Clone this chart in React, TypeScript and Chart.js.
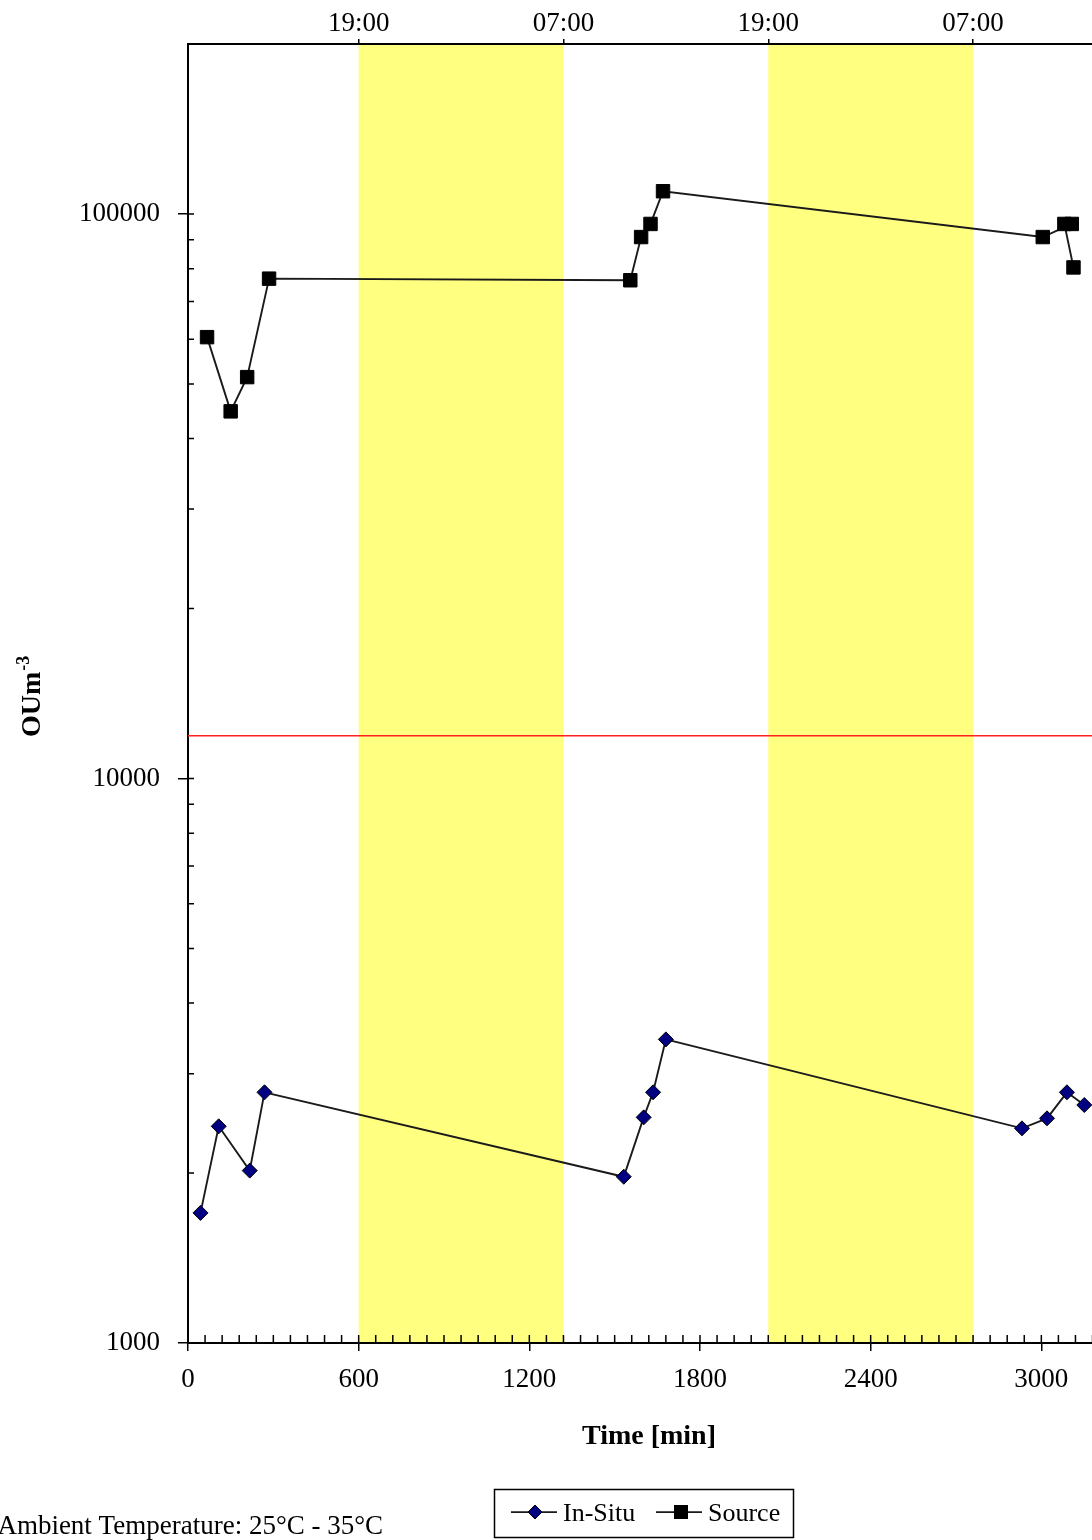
import React, { useEffect, useRef } from 'react';
import { Chart, registerables } from 'chart.js';

Chart.register(...registerables);

// Axis ticks and annotations
const timeTicks = [0, 600, 1200, 1800, 2400, 3000, 3600];
const clockTickMinutes = [600, 1320, 2040, 2760];
const clockTickLabels = ['19:00', '07:00', '19:00', '07:00'];
const nightStart = [600, 2040];
const nightEnd = [1320, 2760];
const decadeTicks = [1000, 10000, 100000];
const thresholdOU = 11900;

// Odour concentration samples (time in minutes, OU/m3)
const inSituTime = [44, 108, 217, 269, 1532, 1602, 1635, 1680, 2932, 3020, 3090, 3151];
const inSituOU = [1700, 2420, 2020, 2780, 1970, 2510, 2780, 3450, 2400, 2500, 2780, 2640];
const sourceTime = [67, 150, 208, 285, 1555, 1593, 1626, 1670, 3005, 3107, 3081, 3113];
const sourceOU = [60500, 44700, 51400, 76800, 76300, 91000, 96000, 109700, 91000, 96000, 96000, 80400];

const SERIF = '"Liberation Serif", "Times New Roman", serif';
const INK = '#000';

const decorPlugin = {
  id: 'decor',
  beforeDraw(chart: any) {
    const { ctx, chartArea: a, scales } = chart;
    const xs = scales.x;
    ctx.save();
    ctx.fillStyle = '#ffff80';
    nightStart.forEach((s, i) => {
      const x0 = xs.getPixelForValue(s);
      const x1 = xs.getPixelForValue(nightEnd[i]);
      ctx.fillRect(x0, a.top, x1 - x0, a.bottom - a.top);
    });
    ctx.restore();
  },
  beforeDatasetsDraw(chart: any) {
    const { ctx, chartArea: a, scales } = chart;
    const yy = scales.y.getPixelForValue(thresholdOU);
    ctx.save();
    ctx.strokeStyle = '#ff2020';
    ctx.lineWidth = 1.5;
    ctx.beginPath();
    ctx.moveTo(a.left, yy);
    ctx.lineTo(a.right, yy);
    ctx.stroke();
    ctx.restore();
  },
  afterDraw(chart: any) {
    const { ctx, chartArea: a, scales } = chart;
    const xs = scales.x;
    const ys = scales.y;
    ctx.save();
    ctx.strokeStyle = INK;
    ctx.lineWidth = 1.5;
    ctx.beginPath();
    // inward minor / major ticks on the time axis
    for (let t = 60; t < 3600; t += 60) {
      const px = xs.getPixelForValue(t);
      ctx.moveTo(px, a.bottom);
      ctx.lineTo(px, a.bottom - 8);
    }
    ctx.moveTo(a.left, a.bottom);
    ctx.lineTo(a.left, a.bottom - 8);
    // inward minor / major ticks on the concentration axis
    decadeTicks.forEach((d) => {
      const py = ys.getPixelForValue(d);
      ctx.moveTo(a.left, py);
      ctx.lineTo(a.left + 6, py);
      for (let k = 2; k <= 9; k++) {
        const v = k * d;
        if (v >= 200000) break;
        const p = ys.getPixelForValue(v);
        ctx.moveTo(a.left, p);
        ctx.lineTo(a.left + 6, p);
      }
    });
    ctx.stroke();

    ctx.fillStyle = INK;
    // y-axis title
    ctx.save();
    ctx.translate(39.5, 737);
    ctx.rotate(-Math.PI / 2);
    ctx.textAlign = 'left';
    ctx.textBaseline = 'alphabetic';
    ctx.font = `bold 28px ${SERIF}`;
    ctx.fillText('OUm', 0, 0);
    const w = ctx.measureText('OUm').width;
    ctx.font = `bold 18px ${SERIF}`;
    ctx.fillText('-3', w + 1, -11);
    ctx.restore();

    // x-axis title
    ctx.font = `bold 28px ${SERIF}`;
    ctx.textAlign = 'center';
    ctx.textBaseline = 'alphabetic';
    ctx.fillText('Time [min]', 649, 1444);

    // note
    ctx.font = `27px ${SERIF}`;
    ctx.textAlign = 'right';
    ctx.fillText('Ambient Temperature: 25°C - 35°C', 383, 1534);

    // legend
    ctx.lineWidth = 1.5;
    ctx.strokeRect(494.5, 1489.5, 299, 48);
    const ly = 1512;
    ctx.lineWidth = 1.75;
    ctx.strokeStyle = '#1a1a1a';
    ctx.beginPath();
    ctx.moveTo(511, ly);
    ctx.lineTo(557, ly);
    ctx.moveTo(656, ly);
    ctx.lineTo(702, ly);
    ctx.stroke();
    // diamond
    ctx.fillStyle = '#000080';
    ctx.strokeStyle = INK;
    ctx.lineWidth = 1;
    ctx.beginPath();
    ctx.moveTo(535 - 7, ly);
    ctx.lineTo(535, ly - 7);
    ctx.lineTo(535 + 7, ly);
    ctx.lineTo(535, ly + 7);
    ctx.closePath();
    ctx.fill();
    ctx.stroke();
    // square
    ctx.fillStyle = INK;
    ctx.fillRect(681 - 7, ly - 7, 14, 14);
    ctx.font = `26px ${SERIF}`;
    ctx.textAlign = 'left';
    ctx.fillText('In-Situ', 563, 1521);
    ctx.fillText('Source', 708, 1521);
    ctx.restore();
  },
};

export default function App() {
  const canvasRef = useRef<HTMLCanvasElement | null>(null);

  useEffect(() => {
    const canvas = canvasRef.current;
    if (!canvas) return;
    const inSitu = inSituTime.map((t, i) => ({ x: t, y: inSituOU[i] }));
    const source = sourceTime.map((t, i) => ({ x: t, y: sourceOU[i] }));
    const tickFont = { family: SERIF, size: 27 };

    const chart = new Chart(canvas, {
      type: 'line',
      data: {
        datasets: [
          {
            label: 'In-Situ',
            data: inSitu,
            xAxisID: 'x',
            yAxisID: 'y',
            borderColor: '#1a1a1a',
            borderWidth: 1.9,
            pointStyle: 'rectRot',
            pointRadius: 7.5,
            pointBackgroundColor: '#000080',
            pointBorderColor: '#000',
            pointBorderWidth: 1,
            tension: 0,
          },
          {
            label: 'Source',
            data: source,
            xAxisID: 'x',
            yAxisID: 'y',
            borderColor: '#1a1a1a',
            borderWidth: 1.9,
            pointStyle: 'rect',
            pointRadius: 9.5,
            pointBackgroundColor: '#000',
            pointBorderColor: '#000',
            pointBorderWidth: 1,
            tension: 0,
          },
        ],
      },
      options: {
        animation: false,
        responsive: false,
        layout: { padding: { left: 0, right: 30, top: 0, bottom: 0 } },
        plugins: { legend: { display: false }, tooltip: { enabled: false } },
        scales: {
          x: {
            type: 'linear',
            position: 'bottom',
            min: 0,
            max: 3600,
            afterBuildTicks: (s: any) => {
              s.ticks = timeTicks.map((v) => ({ value: v }));
            },
            afterFit: (s: any) => {
              s.height = 197;
            },
            grid: { drawOnChartArea: false, drawTicks: true, tickLength: 8, color: INK, lineWidth: 1.5 },
            border: { display: true, color: INK, width: 2 },
            ticks: {
              color: INK,
              font: tickFont,
              padding: 13,
              maxRotation: 0,
              autoSkip: false,
              callback: (v: any) => String(v),
            },
          },
          xTop: {
            type: 'linear',
            position: 'top',
            min: 0,
            max: 3600,
            afterBuildTicks: (s: any) => {
              s.ticks = clockTickMinutes.map((v) => ({ value: v }));
            },
            afterFit: (s: any) => {
              s.height = 44;
            },
            grid: { drawOnChartArea: false, drawTicks: true, tickLength: 5, color: INK, lineWidth: 1.5 },
            border: { display: true, color: INK, width: 2 },
            ticks: {
              color: INK,
              font: tickFont,
              padding: -1,
              maxRotation: 0,
              autoSkip: false,
              callback: (_v: any, i: number) => clockTickLabels[i],
            },
          },
          y: {
            type: 'logarithmic',
            position: 'left',
            min: 1000,
            max: 200000,
            afterBuildTicks: (s: any) => {
              s.ticks = decadeTicks.map((v) => ({ value: v }));
            },
            afterFit: (s: any) => {
              s.width = 188;
            },
            grid: { drawOnChartArea: false, drawTicks: true, tickLength: 10, color: INK, lineWidth: 1.5 },
            border: { display: true, color: INK, width: 2 },
            ticks: {
              color: INK,
              font: tickFont,
              padding: 18,
              autoSkip: false,
              callback: (v: any) => String(v),
            },
          },
        },
      } as any,
      plugins: [decorPlugin],
    });

    return () => chart.destroy();
  }, []);

  return (
    <div
      style={{
        position: 'absolute',
        left: 0,
        top: 0,
        width: 1092,
        height: 1540,
        overflow: 'hidden',
        background: '#fff',
      }}
    >
      <canvas ref={canvasRef} width={1252} height={1540} style={{ display: 'block' }} />
    </div>
  );
}
